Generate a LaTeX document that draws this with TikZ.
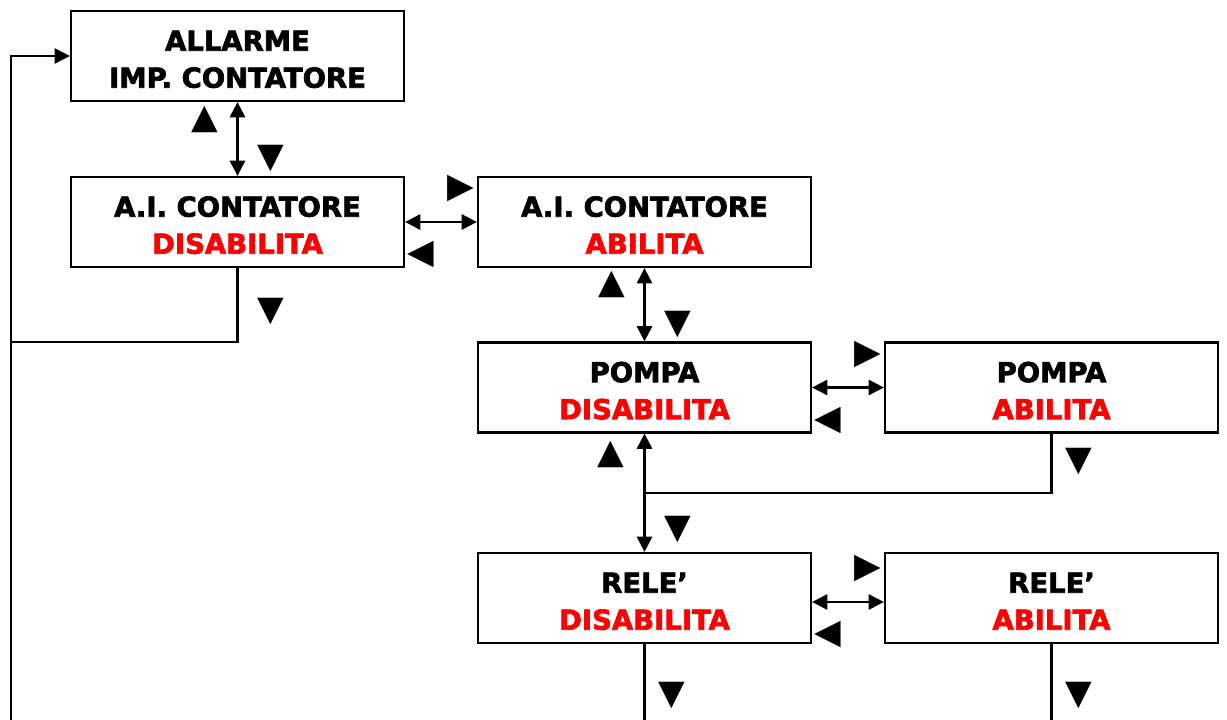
\documentclass[tikz,border=0pt]{standalone}
\usepackage{fontspec}
\setmainfont{DejaVu Sans}[BoldFeatures = {FakeBold = 2.5}]
\usetikzlibrary{arrows.meta}

\tikzset{
  menu/.style = {draw, line width = 1.7pt, minimum width = 249.75pt, minimum height = 67.5pt,
    align = center, inner sep = 0pt, text height = 47.5pt, text depth = 0pt,
    font = \bfseries\fontsize{20.6}{27.75}\selectfont},
  tri/.style = {inner sep = 0pt, font = \fontsize{26}{26}\selectfont},
  link/.style = {line width = 1.7pt, {Triangle[length = 11.5pt, width = 11.5pt]}-{Triangle[length = 11.5pt, width = 11.5pt]}}
}

\begin{document}
\begin{tikzpicture}[x = 0.75pt, y = -0.75pt, line width = 1.6pt]
    \useasboundingbox (0, 0) rectangle (1227, 720);
    \node[menu] (allarme) at (237.5, 56) {ALLARME \\ IMP. CONTATORE};
    \node[menu] (ai disabilita) at (237.5, 222) {A.I. CONTATORE \\ \textcolor{red}{DISABILITA}};
    \node[menu] (ai abilita) at (644.5, 222) {A.I. CONTATORE \\ \textcolor{red}{ABILITA}};
    \node[menu] (pompa disabilita) at (644.5, 387.5) {POMPA \\ \textcolor{red}{DISABILITA}};
    \node[menu] (pompa abilita) at (1051.5, 387.5) {POMPA \\ \textcolor{red}{ABILITA}};
    \node[menu] (rele disabilita) at (644.5, 598) {RELE’ \\ \textcolor{red}{DISABILITA}};
    \node[menu] (rele abilita) at (1051.5, 598) {RELE’ \\ \textcolor{red}{ABILITA}};
    \draw[link] (allarme) -- (ai disabilita);
    \draw[link] (ai disabilita) -- (ai abilita);
    \draw[link] (ai abilita) -- (pompa disabilita);
    \draw[link] (pompa disabilita) -- (pompa abilita);
    \draw[link] (pompa disabilita) -- (rele disabilita);
    \draw[link] ([yshift = -3pt]rele disabilita.east) -- ([yshift = -3pt]rele abilita.west);
    % return paths
    \coordinate (loop join) at (11, 342);
    \coordinate (loop end) at (11, 720);
    \coordinate (pompa join) at (644.5, 493);
    \coordinate (rele disabilita out) at (644.5, 720);
    \coordinate (rele abilita out) at (1051.5, 720);
    \draw (ai disabilita) |- (loop join);
    \draw[-{Triangle[length = 11.5pt, width = 11.5pt]}] (loop end) |- (allarme);
    \draw (pompa abilita) |- (pompa join);
    \draw (rele disabilita) -- (rele disabilita out);
    \draw (rele abilita) -- (rele abilita out);
    % keys
    \node[tri] (up 1) at (204.5, 119.5) {▲};
    \node[tri] (down 1) at (270.5, 158.5) {▼};
    \node[tri] (right 1) at (460.5, 188.5) {▶};
    \node[tri] (left 1) at (421, 254.5) {◀};
    \node[tri] (down 2) at (270.5, 311.5) {▼};
    \node[tri] (up 2) at (611.5, 284.5) {▲};
    \node[tri] (down 3) at (677.5, 324.5) {▼};
    \node[tri] (right 2) at (867.5, 354.5) {▶};
    \node[tri] (left 2) at (828, 420.5) {◀};
    \node[tri] (down 4) at (1078.5, 461.5) {▼};
    \node[tri] (up 3) at (610.5, 454.5) {▲};
    \node[tri] (down 5) at (677.5, 529.5) {▼};
    \node[tri] (right 3) at (867.5, 568) {▶};
    \node[tri] (left 3) at (828, 634.5) {◀};
    \node[tri] (down 6) at (672, 695.5) {▼};
    \node[tri] (down 7) at (1078.5, 695.5) {▼};
\end{tikzpicture}
\end{document}
